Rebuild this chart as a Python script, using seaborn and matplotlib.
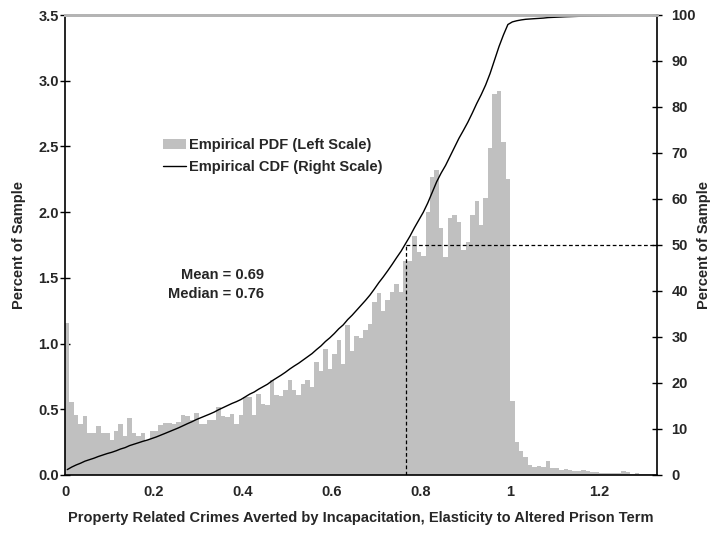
import numpy as np
import pandas as pd
import matplotlib
matplotlib.use("Agg")
import matplotlib.pyplot as plt
from matplotlib.patches import Patch
from matplotlib.lines import Line2D
from matplotlib.ticker import FormatStrFormatter
import seaborn as sns

# ---------------- data ----------------
BIN_WIDTH = 0.01
# percent of sample in each 0.01-wide bin, starting at 0
PDF_PCT = [
    1.16, 0.555, 0.455, 0.386, 0.447, 0.316, 0.316, 0.374, 0.32, 0.32,
    0.265, 0.333, 0.386, 0.295, 0.434, 0.32, 0.298, 0.316, 0.27, 0.333,
    0.336, 0.384, 0.397, 0.397, 0.391, 0.404, 0.455, 0.447, 0.417, 0.472,
    0.39, 0.385, 0.417, 0.42, 0.517, 0.45, 0.444, 0.465, 0.39, 0.455,
    0.59, 0.59, 0.455, 0.614, 0.543, 0.535, 0.72, 0.606, 0.598, 0.649,
    0.72, 0.649, 0.606, 0.694, 0.72, 0.669, 0.859, 0.79, 0.96, 0.808,
    0.92, 1.028, 0.841, 1.144, 0.947, 1.06, 1.043, 1.104, 1.149, 1.313,
    1.384, 1.245, 1.331, 1.389, 1.452, 1.394, 1.629, 1.63, 1.82, 1.70,
    1.667, 2.0, 2.27, 2.32, 1.88, 1.66, 1.957, 1.977, 1.927, 1.712,
    1.773, 1.977, 2.083, 1.90, 2.109, 2.49, 2.896, 2.92, 2.53, 2.255,
    0.565, 0.25, 0.18, 0.135, 0.078, 0.06, 0.065, 0.06, 0.105, 0.05,
    0.05, 0.04, 0.043, 0.035, 0.03, 0.03, 0.038, 0.03, 0.02, 0.02,
    0.012, 0.015, 0.015, 0.017, 0.012, 0.03, 0.022, 0.01, 0.015, 0.006,
    0.006, 0.008, 0.008,
]
MEAN_VALUE = 0.69
MEDIAN_VALUE = 0.76
MEDIAN_LINE_X = 0.765
MEDIAN_CDF = 50

X_MAX = 1.33
LEFT_TICKS = [0.0, 0.5, 1.0, 1.5, 2.0, 2.5, 3.0, 3.5]
RIGHT_TICKS = [0, 10, 20, 30, 40, 50, 60, 70, 80, 90, 100]
X_TICKS = [0, 0.2, 0.4, 0.6, 0.8, 1.0, 1.2]
X_TICK_LABELS = ["0", "0.2", "0.4", "0.6", "0.8", "1", "1.2"]

LEGEND_LABELS = ["Empirical PDF (Left Scale)", "Empirical CDF (Right Scale)"]
X_LABEL = "Property Related Crimes Averted by Incapacitation, Elasticity to Altered Prison Term"
Y_LABEL = "Percent of Sample"

# ---------------- derived table ----------------
pdf = np.array(PDF_PCT)
n = len(pdf)
centers = (np.arange(n) + 0.5) * BIN_WIDTH
df = pd.DataFrame({"x": centers, "pdf": pdf})
df["cdf"] = df["pdf"].cumsum() / df["pdf"].sum() * 100

# ---------------- plotting ----------------
sns.set_theme(style="white")
plt.rcParams["font.family"] = ["Liberation Sans", "DejaVu Sans"]
plt.rcParams["font.weight"] = "bold"

W, H = 714, 533
fig = plt.figure(figsize=(W / 100, H / 100), dpi=100)
ax = fig.add_axes([65 / W, 1 - 475 / H, (657 - 65) / W, (475 - 15) / H])

BAR_COLOR = "#C0C0C0"
sns.histplot(data=df, x="x", weights="pdf", binwidth=BIN_WIDTH,
             binrange=(0, n * BIN_WIDTH), ax=ax,
             color=BAR_COLOR, alpha=1, linewidth=0)

ax.set_xlim(0, X_MAX)
ax.set_ylim(0, 3.5)
ax.set_yticks(LEFT_TICKS)
ax.yaxis.set_major_formatter(FormatStrFormatter("%.1f"))
ax.set_xticks(X_TICKS)
ax.set_xticklabels(X_TICK_LABELS)

ax2 = ax.twinx()
sns.lineplot(data=df, x="x", y="cdf", ax=ax2, color="black", linewidth=1.0)
ax2.plot([MEDIAN_LINE_X, MEDIAN_LINE_X], [0, MEDIAN_CDF], color="black",
         linestyle=(0, (3, 2)), linewidth=0.9)
ax2.plot([MEDIAN_LINE_X, X_MAX], [MEDIAN_CDF, MEDIAN_CDF], color="black",
         linestyle=(0, (3, 2)), linewidth=0.9)
ax2.set_ylim(0, 100)
ax2.set_yticks(RIGHT_TICKS)
ax2.set_xlim(0, X_MAX)

FS = 10.5
ax.tick_params(axis="y", direction="inout", length=7, width=1, color="black",
               labelsize=FS, pad=1)
ax.tick_params(axis="x", direction="inout", length=7, width=1, color="black",
               labelsize=FS, pad=4)
ax2.tick_params(axis="y", direction="inout", length=7, width=1, color="black",
                labelsize=FS, pad=7)
for a in (ax, ax2):
    for lab in a.get_xticklabels() + a.get_yticklabels():
        lab.set_fontweight("bold")

ax.set_xlabel(X_LABEL, fontsize=FS, fontweight="bold", labelpad=8)
ax.set_ylabel(Y_LABEL, fontsize=FS, fontweight="bold", labelpad=9)
ax2.set_ylabel(Y_LABEL, fontsize=FS, fontweight="bold", labelpad=1)

for a in (ax, ax2):
    for s in a.spines.values():
        s.set_color("black")
        s.set_linewidth(1.2)
    a.spines["top"].set_color("#B4B4B4")
    a.spines["top"].set_linewidth(2)
ax.spines["right"].set_visible(False)
ax2.spines["left"].set_visible(False)
ax2.spines["bottom"].set_visible(False)

handles = [Patch(facecolor=BAR_COLOR, edgecolor="none"),
           Line2D([0], [0], color="black", linewidth=1.0)]
ax.legend(handles, LEGEND_LABELS, loc="upper left",
          bbox_to_anchor=(163 / W, 1 - 138 / H), bbox_transform=fig.transFigure,
          frameon=False, prop={"weight": "bold", "size": FS},
          handlelength=1.6, handleheight=0.65, handletextpad=0.2,
          borderpad=0, borderaxespad=0, labelspacing=0.55)

fig.text(264 / W, 1 - 275 / H, f"Mean = {MEAN_VALUE:.2f}", ha="right", va="center",
         fontsize=FS, fontweight="bold")
fig.text(264 / W, 1 - 294 / H, f"Median = {MEDIAN_VALUE:.2f}", ha="right", va="center",
         fontsize=FS, fontweight="bold")

fig.savefig("out.png", dpi=100)
